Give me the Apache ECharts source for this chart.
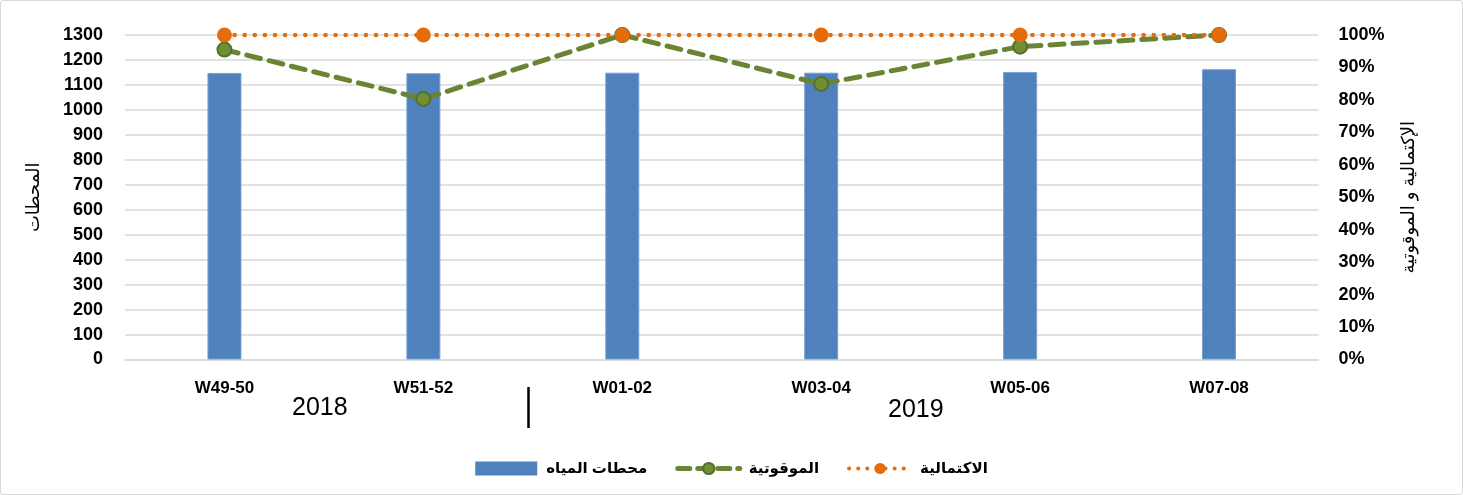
<!DOCTYPE html>
<html>
<head>
<meta charset="utf-8">
<script src="https://cdn.jsdelivr.net/npm/echarts@6/dist/echarts.min.js"></script>
<style>
html,body{margin:0;padding:0;background:#fff;}
#wrap{position:absolute;left:0;top:0;width:1461px;height:493px;border:1px solid #d9d9d9;border-radius:3px;}
#chart{position:absolute;left:-1px;top:-1px;width:1463px;height:495px;}
</style>
</head>
<body>
<div id="wrap"><div id="chart"></div></div>
<script>
const categories = ['W49-50', 'W51-52', 'W01-02', 'W03-04', 'W05-06', 'W07-08'];
const stations = [1148, 1147, 1149, 1149, 1152, 1163];
const timeliness = [0.955, 0.803, 1.0, 0.849, 0.964, 1.0];
const completeness = [1.0, 1.0, 1.0, 1.0, 1.0, 1.0];
const leftTicks = { min: 0, max: 1300, interval: 100 };
const rightTicks = { min: 0, max: 1, interval: 0.1 };
const years = ['2018', '2019'];
const seriesNames = ['محطات المياه', 'الموقوتية', 'الاكتمالية'];
const leftTitle = 'المحطات';
const rightTitle = 'الإكتمالية و الموقوتية';

const FONT = 'Liberation Sans, DejaVu Sans, sans-serif';
const GREEN = '#6a8433', ORANGE = '#E46C0A', BLUE = '#4F81BD';
const chart = echarts.init(document.getElementById('chart'));
chart.setOption({
  animation: false,
  textStyle: { fontFamily: FONT },
  grid: { left: 125, right: 144.5, top: 35, bottom: 135.5, containLabel: false },
  legend: {
    top: 456, left: 'center',
    itemWidth: 62, itemHeight: 14, itemGap: 28,
    textStyle: { fontFamily: FONT, fontSize: 15, fontWeight: 'bold', color: '#000', padding: [0, 0, 0, 4] },
    data: [
      { name: seriesNames[0], icon: 'rect', itemStyle: { color: BLUE, borderWidth: 0 } },
      { name: seriesNames[1], lineStyle: { width: 5, type: [12, 8], cap: 'round', color: GREEN } },
      { name: seriesNames[2], lineStyle: { width: 4, type: [0.1, 9], cap: 'round', color: ORANGE } }
    ]
  },
  xAxis: {
    type: 'category', data: categories,
    axisLine: { show: true, lineStyle: { color: '#d9d9d9', width: 1.5 } },
    axisTick: { show: false },
    axisLabel: { margin: 20, fontSize: 17, fontWeight: 'bold', color: '#000', fontFamily: FONT }
  },
  yAxis: [{
    type: 'value', min: leftTicks.min, max: leftTicks.max, interval: leftTicks.interval,
    name: leftTitle, nameLocation: 'middle', nameRotate: 90, nameGap: 82,
    nameTextStyle: { fontSize: 18, color: '#000', fontFamily: FONT },
    axisLine: { show: false }, axisTick: { show: false },
    axisLabel: { margin: 22, fontSize: 18, fontWeight: 'bold', color: '#000', fontFamily: FONT,
      formatter: v => String(v) },
    splitLine: { lineStyle: { color: '#d9d9d9', width: 1.5 } }
  }, {
    type: 'value', min: rightTicks.min, max: rightTicks.max, interval: rightTicks.interval,
    name: rightTitle, nameLocation: 'middle', nameRotate: 90, nameGap: 82,
    nameTextStyle: { fontSize: 18, color: '#000', fontFamily: FONT },
    axisLine: { show: false }, axisTick: { show: false },
    axisLabel: { margin: 20, fontSize: 18, fontWeight: 'bold', color: '#000', fontFamily: FONT,
      formatter: v => Math.round(v * 100) + '%' },
    splitLine: { show: false }
  }],
  series: [{
    name: seriesNames[0], type: 'bar', data: stations, barWidth: 34,
    itemStyle: { color: BLUE, borderColor: '#7aa0d4', borderWidth: 1 }
  }, {
    name: seriesNames[1], type: 'line', yAxisIndex: 1, data: timeliness,
    symbol: 'circle', symbolSize: 14,
    lineStyle: { color: GREEN, width: 5, type: [14, 9], cap: 'round' },
    itemStyle: { color: '#6f8f34', borderColor: '#56702a', borderWidth: 2 }
  }, {
    name: seriesNames[2], type: 'line', yAxisIndex: 1, data: completeness,
    symbol: 'circle', symbolSize: 15,
    lineStyle: { color: ORANGE, width: 4.5, type: [0.1, 10], cap: 'round' },
    itemStyle: { color: ORANGE, borderWidth: 0 }
  }],
  graphic: [
    { type: 'text', left: 292, top: 396, style: { text: years[0], fontSize: 25, fill: '#000', fontFamily: FONT } },
    { type: 'text', left: 888, top: 398, style: { text: years[1], fontSize: 25, fill: '#000', fontFamily: FONT } },
    { type: 'line', shape: { x1: 528.5, y1: 387, x2: 528.5, y2: 428 }, style: { stroke: '#000', lineWidth: 2.5 } }
  ]
});
</script>
</body>
</html>
